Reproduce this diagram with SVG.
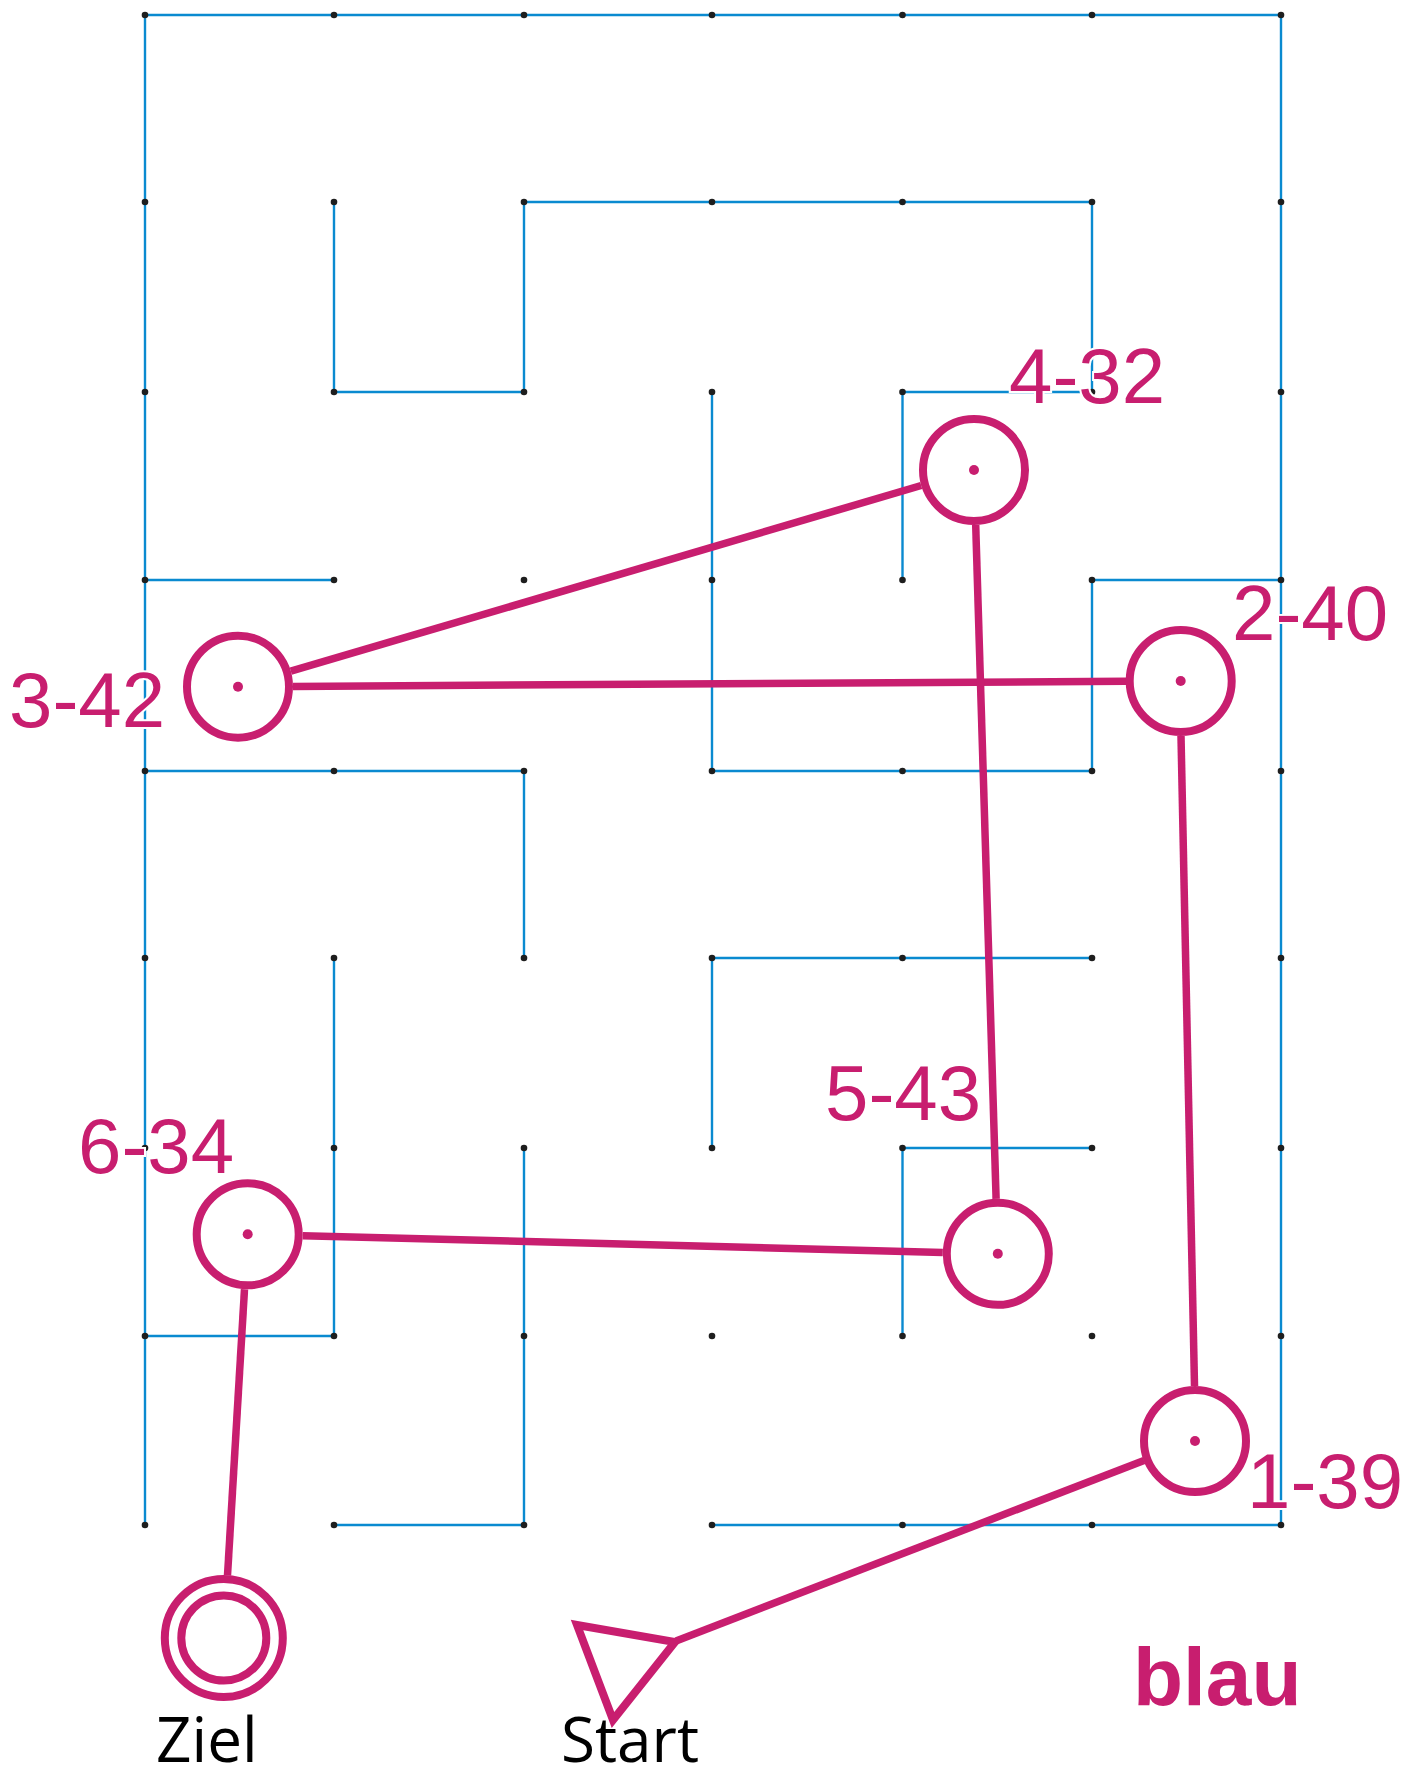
<svg xmlns="http://www.w3.org/2000/svg" width="1404" height="1767" viewBox="0 0 1404 1767">
<style>
.wall{stroke:#0a8ad0;stroke-width:2.4;fill:none;stroke-linecap:round}
.dot{fill:#1e1e1e}
.ring{fill:#fff;stroke:#c81e6f;stroke-width:8}
.ctr{fill:#c81e6f}
.path{stroke:#c81e6f;stroke-width:7.5;fill:none;stroke-linecap:butt}
.lbl{font-family:"Liberation Sans",Arial,sans-serif;font-size:78px;fill:#c81e6f;stroke:#fff;stroke-width:4;paint-order:stroke}
.cap{font-family:"Open Sans","Noto Sans",sans-serif;font-size:62px;fill:#000}
.title{font-family:"Liberation Sans",Arial,sans-serif;font-size:82px;font-weight:bold;fill:#c81e6f}
</style>
<rect width="1404" height="1767" fill="#fff"/>
<g id="maze">
<path class="wall" d="M145 15H1281V1525M145 15V1525
M524 202H1092V392M334 202V392H524V202
M902.5 392H1092M712 392V771M902.5 392V580
M145 580H334M1092 580H1281M1092 580V771
M145 771H524V958M712 771H1092
M712 958H1092M712 958V1148M334 958V1336
M902.5 1148H1092M902.5 1148V1336M524 1148V1525
M145 1336H334M334 1525H524M712 1525H1281"/>
</g>
<g id="grid-dots" class="dot">
<circle cx="145" cy="15" r="3.3"/><circle cx="334" cy="15" r="3.3"/><circle cx="524" cy="15" r="3.3"/><circle cx="712" cy="15" r="3.3"/><circle cx="902.5" cy="15" r="3.3"/><circle cx="1092" cy="15" r="3.3"/><circle cx="1281" cy="15" r="3.3"/>
<circle cx="145" cy="202" r="3.3"/><circle cx="334" cy="202" r="3.3"/><circle cx="524" cy="202" r="3.3"/><circle cx="712" cy="202" r="3.3"/><circle cx="902.5" cy="202" r="3.3"/><circle cx="1092" cy="202" r="3.3"/><circle cx="1281" cy="202" r="3.3"/>
<circle cx="145" cy="392" r="3.3"/><circle cx="334" cy="392" r="3.3"/><circle cx="524" cy="392" r="3.3"/><circle cx="712" cy="392" r="3.3"/><circle cx="902.5" cy="392" r="3.3"/><circle cx="1092" cy="392" r="3.3"/><circle cx="1281" cy="392" r="3.3"/>
<circle cx="145" cy="580" r="3.3"/><circle cx="334" cy="580" r="3.3"/><circle cx="524" cy="580" r="3.3"/><circle cx="712" cy="580" r="3.3"/><circle cx="902.5" cy="580" r="3.3"/><circle cx="1092" cy="580" r="3.3"/><circle cx="1281" cy="580" r="3.3"/>
<circle cx="145" cy="771" r="3.3"/><circle cx="334" cy="771" r="3.3"/><circle cx="524" cy="771" r="3.3"/><circle cx="712" cy="771" r="3.3"/><circle cx="902.5" cy="771" r="3.3"/><circle cx="1092" cy="771" r="3.3"/><circle cx="1281" cy="771" r="3.3"/>
<circle cx="145" cy="958" r="3.3"/><circle cx="334" cy="958" r="3.3"/><circle cx="524" cy="958" r="3.3"/><circle cx="712" cy="958" r="3.3"/><circle cx="902.5" cy="958" r="3.3"/><circle cx="1092" cy="958" r="3.3"/><circle cx="1281" cy="958" r="3.3"/>
<circle cx="145" cy="1148" r="3.3"/><circle cx="334" cy="1148" r="3.3"/><circle cx="524" cy="1148" r="3.3"/><circle cx="712" cy="1148" r="3.3"/><circle cx="902.5" cy="1148" r="3.3"/><circle cx="1092" cy="1148" r="3.3"/><circle cx="1281" cy="1148" r="3.3"/>
<circle cx="145" cy="1336" r="3.3"/><circle cx="334" cy="1336" r="3.3"/><circle cx="524" cy="1336" r="3.3"/><circle cx="712" cy="1336" r="3.3"/><circle cx="902.5" cy="1336" r="3.3"/><circle cx="1092" cy="1336" r="3.3"/><circle cx="1281" cy="1336" r="3.3"/>
<circle cx="145" cy="1525" r="3.3"/><circle cx="334" cy="1525" r="3.3"/><circle cx="524" cy="1525" r="3.3"/><circle cx="712" cy="1525" r="3.3"/><circle cx="902.5" cy="1525" r="3.3"/><circle cx="1092" cy="1525" r="3.3"/><circle cx="1281" cy="1525" r="3.3"/>
</g>
<g id="connectors" class="path">
<line x1="676" y1="1641" x2="1144" y2="1460.5"/>
<line x1="1194.5" y1="1386" x2="1181" y2="736"/>
<line x1="1126" y1="681.3" x2="293" y2="686.4"/>
<line x1="290.8" y1="671.2" x2="921.2" y2="485.5"/>
<line x1="975.7" y1="525" x2="996.1" y2="1198.8"/>
<line x1="942.8" y1="1252.4" x2="302.7" y2="1235.7"/>
<line x1="244.5" y1="1289.2" x2="227.5" y2="1575.5"/>
</g>
<g id="node-1-39"><circle class="ring" cx="1195" cy="1441" r="51"/><circle class="ctr" cx="1195" cy="1441" r="5"/><text class="lbl" x="1247" y="1508">1-39</text></g>
<g id="node-2-40"><circle class="ring" cx="1180.7" cy="681" r="51"/><circle class="ctr" cx="1180.7" cy="681" r="5"/><text class="lbl" x="1232" y="640">2-40</text></g>
<g id="node-3-42"><circle class="ring" cx="238" cy="686.7" r="51"/><circle class="ctr" cx="238" cy="686.7" r="5"/><text class="lbl" x="9" y="727">3-42</text></g>
<g id="node-4-32"><circle class="ring" cx="974" cy="470" r="51"/><circle class="ctr" cx="974" cy="470" r="5"/><text class="lbl" x="1009" y="403">4-32</text></g>
<g id="node-5-43"><circle class="ring" cx="997.8" cy="1253.8" r="51"/><circle class="ctr" cx="997.8" cy="1253.8" r="5"/><text class="lbl" x="825" y="1120">5-43</text></g>
<g id="node-6-34"><circle class="ring" cx="247.7" cy="1234.3" r="51"/><circle class="ctr" cx="247.7" cy="1234.3" r="5"/><text class="lbl" x="78" y="1173">6-34</text></g>
<g id="node-ziel"><circle class="ring" cx="223.8" cy="1638" r="59"/><circle class="ring" cx="223.8" cy="1638" r="42.5"/><text class="cap" x="156" y="1762">Ziel</text></g>
<g id="node-start"><polygon points="577,1625 675,1642 613,1720" fill="#fff" stroke="#c81e6f" stroke-width="8" stroke-linejoin="miter"/><text class="cap" x="561" y="1762" font-size="59">Start</text></g>
<g id="title"><text class="title" x="1133" y="1705">blau</text></g>
</svg>
